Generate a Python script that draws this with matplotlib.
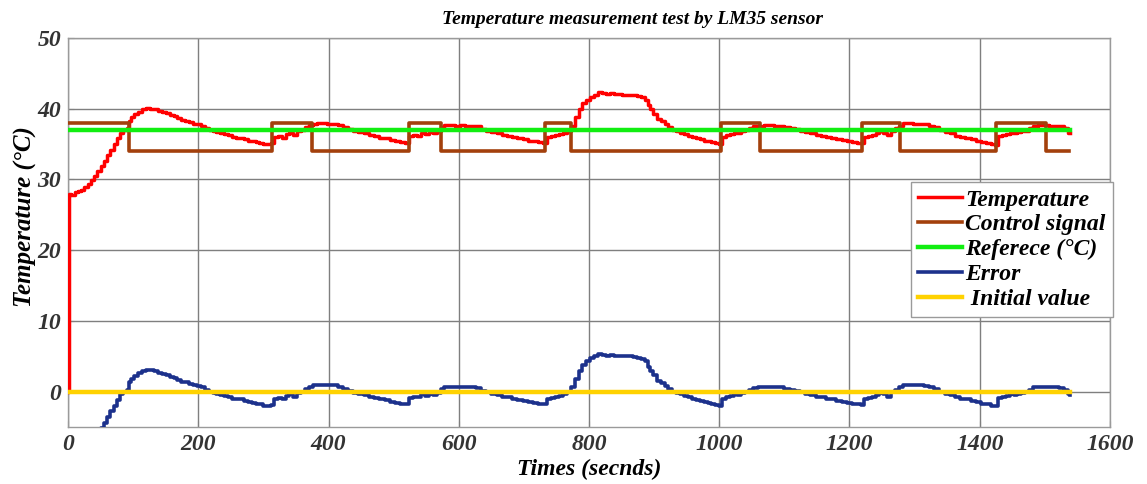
import matplotlib
matplotlib.use("Agg")
import matplotlib.pyplot as plt
import numpy as np

# ---------------- data ----------------
time_s = [0, 1, 5, 10, 15, 20, 25, 30, 35, 40, 45, 50, 55, 60, 65, 70, 75, 80, 85, 90,
          93, 97, 102, 108, 114, 120, 126, 132, 138, 144, 150, 156, 162, 168, 174, 180,
          186, 192, 198, 204, 210, 216, 222, 228, 234, 240, 246, 252, 258, 264, 270, 276,
          282, 288, 294, 300, 306, 312, 316, 322, 328, 334, 340, 346, 352, 358, 364, 370,
          376, 382, 390, 398, 406, 414, 422, 430, 438, 446, 454, 462, 470, 478, 486, 494,
          502, 510, 518, 524, 530, 536, 542, 548, 554, 560, 566, 572, 578, 586, 594, 602,
          610, 618, 626, 634, 642, 650, 658, 666, 674, 682, 690, 698, 706, 714, 722, 730,
          735, 742, 748, 754, 760, 766, 772, 778, 784, 790, 796, 802, 808, 814, 820, 826,
          832, 838, 844, 850, 856, 862, 868, 874, 880, 886, 890, 894, 898, 904, 910, 916,
          922, 928, 934, 940, 946, 952, 958, 964, 970, 976, 982, 988, 994, 1000, 1004, 1010,
          1016, 1022, 1028, 1034, 1040, 1046, 1052, 1060, 1068, 1076, 1084, 1092, 1100, 1108,
          1116, 1124, 1132, 1140, 1148, 1156, 1164, 1172, 1180, 1188, 1196, 1204, 1212, 1218,
          1222, 1228, 1234, 1240, 1246, 1252, 1258, 1264, 1270, 1276, 1282, 1290, 1298, 1306,
          1314, 1322, 1330, 1338, 1346, 1354, 1362, 1370, 1378, 1386, 1394, 1402, 1410, 1418,
          1424, 1428, 1434, 1440, 1446, 1452, 1458, 1464, 1470, 1476, 1482, 1490, 1498, 1506,
          1514, 1522, 1530, 1536, 1538]

temperature = [0.0, 28.0, 27.8, 28.2, 28.3, 28.5, 28.9, 29.4, 29.9, 30.5, 31.2, 31.9, 32.6, 33.4,
               34.2, 35.0, 35.8, 36.6, 37.0, 37.3,
               38.3, 38.8, 39.2, 39.6, 39.9, 40.1, 40.0, 39.9, 39.7, 39.5, 39.4, 39.1, 38.9, 38.7,
               38.4, 38.3, 38.1, 37.9, 37.8, 37.6, 37.3, 37.0, 36.8, 36.7, 36.5, 36.4, 36.3, 36.0,
               35.9, 35.9, 35.7, 35.5, 35.4, 35.3, 35.2, 35.0, 35.0, 35.1, 36.0, 36.1, 35.9, 36.4,
               36.6, 36.3, 36.8, 37.0, 37.4, 37.7, 37.9, 38.0, 38.0, 37.9, 37.9, 37.7, 37.4, 37.1,
               36.8, 36.7, 36.5, 36.3, 36.1, 35.9, 35.8, 35.6, 35.4, 35.3, 35.2, 36.1, 36.3, 36.2,
               36.6, 36.4, 36.7, 36.5, 36.8, 37.4, 37.7, 37.7, 37.6, 37.7, 37.6, 37.6, 37.5, 37.1,
               36.9, 36.7, 36.5, 36.3, 36.2, 36.0, 35.8, 35.7, 35.5, 35.4, 35.3, 35.2,
               36.0, 36.1, 36.3, 36.4, 36.6, 36.9, 37.6, 38.8, 39.9, 40.8, 41.3, 41.7, 42.0, 42.3,
               42.2, 42.1, 42.2, 42.1, 42.1, 42.0, 42.0, 42.0, 41.9, 41.8, 41.6, 41.3, 40.5, 39.9,
               39.3, 38.5, 38.2, 37.8, 37.4, 37.0, 36.8, 36.6, 36.4, 36.2, 36.0, 35.8, 35.7, 35.5,
               35.4, 35.3, 35.1, 35.0, 36.0, 36.3, 36.4, 36.6, 36.5, 36.8, 37.0, 37.3, 37.5, 37.6,
               37.7, 37.7, 37.6, 37.6, 37.4, 37.3, 37.1, 36.9, 36.7, 36.5, 36.3, 36.2, 36.0, 35.9,
               35.7, 35.6, 35.4, 35.3, 35.2, 35.1, 36.0, 36.1, 36.3, 36.5, 36.8, 36.6, 36.3, 36.9,
               37.3, 37.6, 38.0, 38.0, 37.9, 37.9, 37.8, 37.6, 37.4, 37.0, 36.7, 36.5, 36.2, 36.0,
               35.9, 35.7, 35.5, 35.3, 35.2, 35.0, 34.9, 36.1, 36.3, 36.4, 36.6, 36.5, 36.7, 36.8,
               36.9, 37.3, 37.6, 37.7, 37.7, 37.6, 37.6, 37.5, 37.3, 36.6, 36.5]

control_times = [0, 93, 313, 374, 523, 573, 733, 772, 1002, 1063, 1220, 1278, 1425, 1502, 1537]
control_levels = [38, 34, 38, 34, 38, 34, 38, 34, 38, 34, 38, 34, 38, 34, 34]

reference_value = 37.0
initial_value = 0.0
line_span = [0, 1538]

series_labels = ["Temperature", "Control signal", "Referece (\u00b0C)", "Error", " Initial value"]
x_ticks = [0, 200, 400, 600, 800, 1000, 1200, 1400, 1600]
y_ticks = [0, 10, 20, 30, 40, 50]

# ---------------- plot ----------------
serif = ["Liberation Serif", "DejaVu Serif"]
fig = plt.figure(figsize=(11.47, 4.84), dpi=100)
ax = fig.add_axes([0.0593, 0.1178, 0.9084, 0.8037])

t = np.array(time_s, dtype=float)
temp = np.array(temperature, dtype=float)
error = temp - reference_value

ax.plot(t, temp, color="#ff0000", lw=2.5, drawstyle="steps-post", label=series_labels[0], zorder=3)
ax.plot(control_times, control_levels, color="#a3400c", lw=2.6, drawstyle="steps-post",
        label=series_labels[1], zorder=4)
ax.plot(line_span, [reference_value] * 2, color="#11ee11", lw=3.2, label=series_labels[2], zorder=5)
ax.plot(t, error, color="#1c318c", lw=2.6, drawstyle="steps-post", label=series_labels[3], zorder=6)
ax.plot(line_span, [initial_value] * 2, color="#ffd200", lw=3.2, label=series_labels[4], zorder=7)

ax.set_xlim(0, 1600)
ax.set_ylim(-5, 50)
ax.set_xticks(x_ticks)
ax.set_yticks(y_ticks)
ax.grid(True, color="#7f7f7f", lw=1.0)
ax.set_axisbelow(True)
for s in ax.spines.values():
    s.set_color("#9a9a9a")
    s.set_linewidth(1.0)
ax.tick_params(direction="in", length=4, color="#7f7f7f", labelcolor="#333333", pad=5)
for lab in ax.get_xticklabels() + ax.get_yticklabels():
    lab.set_fontfamily(serif)
    lab.set_fontstyle("italic")
    lab.set_fontweight("bold")
    lab.set_fontsize(17)

ax.set_title("Temperature measurement test by LM35 sensor", family=serif, style="italic",
             weight="bold", fontsize=14, pad=10, x=0.542)
ax.set_xlabel("Times (secnds)", family=serif, style="italic", weight="bold", fontsize=17)
ax.xaxis.set_label_coords(0.5, -0.083)
ax.set_ylabel("Temperature (\u00b0C)", family=serif, style="italic", weight="bold", fontsize=18)
ax.yaxis.set_label_coords(-0.030, 0.54)

leg = ax.legend(loc="upper right", bbox_to_anchor=(0.970, 0.624), bbox_transform=fig.transFigure,
                prop={"family": serif, "style": "italic", "weight": "bold", "size": 17},
                frameon=True, fancybox=False, framealpha=1, edgecolor="#9a9a9a",
                handlelength=1.85, handletextpad=0.15, labelspacing=0.14, borderpad=0.3,
                borderaxespad=0)
leg.get_frame().set_linewidth(1.0)

fig.savefig("out.png", dpi=100)
